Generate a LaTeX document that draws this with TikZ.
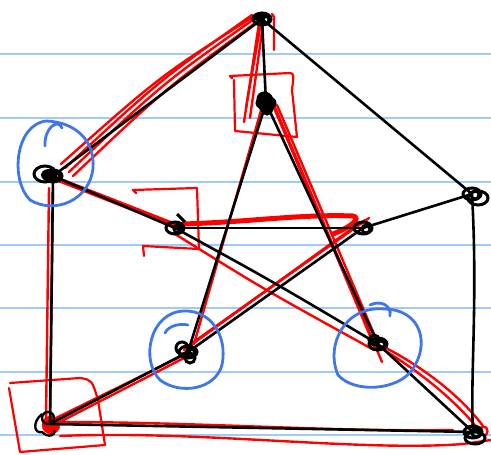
\documentclass[tikz,border=0pt]{standalone}
\usetikzlibrary{calc}
\definecolor{ruled}{RGB}{160,202,250}
\definecolor{penblue}{RGB}{64,118,232}
\definecolor{penred}{RGB}{255,0,0}
\begin{document}
\begin{tikzpicture}[x=1pt,y=-1pt,
  ruleline/.style={ruled,line width=1.6pt},
  edge/.style={black,line width=2.6pt,line cap=round},
  hl/.style={penred,line width=2.4pt,line cap=round,line join=round},
  hlthick/.style={penred,line width=5pt,line cap=round},
  ring/.style={penblue,line width=2.8pt,line cap=round},
  vmark/.style={black,line width=3pt},
  boxmark/.style={penred,line width=2.2pt,line join=round,line cap=round}]
\useasboundingbox (0,0) rectangle (491,455);
% ruled paper lines
\foreach \yy in {54,118,182,245,308,372,435}
  \draw[ruleline] (0,\yy) -- (491,\yy);
% vertices
\coordinate (T) at (262,19);
\coordinate (L) at (53,176);
\coordinate (R) at (472,194);
\coordinate (BL) at (50,424);
\coordinate (BR) at (473,432);
\coordinate (iT) at (266,103);
\coordinate (iL) at (175,228);
\coordinate (iR) at (363,228);
\coordinate (iBL) at (188,352);
\coordinate (iBR) at (378,344);
% red highlighted edges
\draw[hl] ([shift={(-6,-4)}]T) .. controls (160,76) .. ([shift={(8,-12)}]L);
\draw[hl] ([shift={(-10,-4)}]T) .. controls (160,80) .. ([shift={(12,-8)}]L);
\draw[hl] ([shift={(-8,0)}]T) .. controls (162,84) .. ([shift={(16,-4)}]L);
\draw[hl] ([shift={(-4,2)}]T) .. controls (166,88) .. ([shift={(20,0)}]L);
\draw[hl] ([shift={(-2,-2)}]T) -- (244,122);
\draw[hl] ([shift={(2,-2)}]T) -- (250,118);
\draw[hl] ([shift={(-1,3)}]T) -- (246,108);
\draw[hl] ([shift={(10,-5)}]T) -- ([shift={(12,-2)}]T) -- (274,50);
\draw[hlthick] ([shift={(4,3)}]L) -- ([shift={(2,-2)}]iL);
\draw[hl] ([shift={(-4,12)}]L) -- ([shift={(-4,-4)}]BL);
\draw[hl] ([shift={(0,12)}]L) -- ([shift={(0,-4)}]BL);
\draw[hlthick] ([shift={(8,-4)}]iL) .. controls (250,222) and (300,214) .. ([shift={(-10,-12)}]iR) .. controls ([shift={(-2,-10)}]iR) and ([shift={(-10,-2)}]iR) .. ([shift={(-30,6)}]iR);
\draw[hl] ([shift={(6,-10)}]iR) -- ([shift={(0,-6)}]iBL);
\draw[hl] ([shift={(2,-8)}]iR) -- ([shift={(-2,-4)}]iBL);
\draw[hl] ([shift={(-2,-6)}]iR) -- ([shift={(-4,-2)}]iBL);
\draw[hl] ([shift={(-4,4)}]iT) -- ([shift={(6,-8)}]iBL);
\draw[hl] ([shift={(6,0)}]iT) -- ([shift={(-2,6)}]iBR);
\draw[hl] ([shift={(8,2)}]iT) -- ([shift={(4,18)}]iBR);
\draw[hl] ([shift={(11,2)}]iT) -- ([shift={(-4,-10)}]iBR);
\draw[hl] ([shift={(0,6)}]iL) .. controls (265,290) .. ([shift={(-4,6)}]iBR);
\draw[hl] ([shift={(-2,2)}]iBL) -- ([shift={(-2,-2)}]BL);
\draw[hl] ([shift={(0,4)}]iBL) -- ([shift={(2,2)}]BL);
\draw[hl] ([shift={(4,2)}]iBR) .. controls (420,365) and (460,395) .. ([shift={(10,-6)}]BR);
\draw[hl] ([shift={(6,6)}]iBR) .. controls (420,372) and (455,400) .. ([shift={(6,-2)}]BR) .. controls ([shift={(12,-10)}]BR) and ([shift={(18,-2)}]BR) .. ([shift={(12,4)}]BR);
\draw[hl] ([shift={(10,-2)}]BL) .. controls (200,422) and (330,432) .. ([shift={(-20,-2)}]BR);
\draw[hl] ([shift={(10,12)}]BL) .. controls (200,430) and (360,452) .. ([shift={(-10,12)}]BR) -- ([shift={(18,8)}]BR);
% red boxes
\draw[boxmark] (232,78) -- (230,76) -- (290,73) .. controls (294,74) .. (292,90) -- (297,137) -- (235,131) -- (234,80);
\draw[boxmark] (136,193) -- (133,190) -- (197,188) -- (199,249) -- (143,246) -- (144,256);
\draw[boxmark] (10,383) -- (80,378) .. controls (92,380) .. (98,400) -- (105,445) -- (20,452) -- (9,388);
\draw[penred,fill=penred] (BL) ++(1,1) circle (9);
% black edges
\draw[edge] (T) -- (L);
\draw[edge] (T) -- (R);
\draw[edge] (L) -- (BL);
\draw[edge] (R) .. controls (478,300) and (470,380) .. (BR);
\draw[edge] (BL) -- (BR);
\draw[edge] (T) -- (iT);
\draw[edge] (L) -- (iL);
\draw[edge] (R) -- (iR);
\draw[edge] (BL) -- (iBL);
\draw[edge] (BR) -- (iBR);
\draw[edge] (iT) -- (iBL);
\draw[edge] (iT) -- (iBR);
\draw[edge] (iL) -- (iR);
\draw[edge] (iL) .. controls (270,280) .. (iBR);
\draw[edge] (iR) -- (iBL);
% vertex scribbles
\foreach \v in {T,L,R,BR,iT,iL,iR,iBL,iBR}{
  \draw[vmark] (\v) ellipse (9 and 6);
  \draw[vmark] ([shift={(3,1)}]\v) circle (4);
}
\fill[black] (iT) ellipse (8 and 11);
\draw[vmark] ([shift={(-2,-4)}]iT) circle (6);
\draw[vmark] ([shift={(1,6)}]iT) circle (5);
\fill[black] ([shift={(-4,-1)}]L) ellipse (8 and 6);
\fill[black] ([shift={(-3,-2)}]T) ellipse (7 and 4);
\draw[vmark] ([shift={(-6,-4)}]iBL) circle (6);
\draw[vmark] ([shift={(2,6)}]iBL) circle (5);
\draw[vmark] ([shift={(-4,-4)}]iBR) circle (5);
\draw[vmark] ([shift={(6,4)}]R) ellipse (10 and 7);
\draw[vmark] ([shift={(-8,-2)}]L) ellipse (11 and 8);
\draw[vmark] ([shift={(2,6)}]BR) ellipse (10 and 6);
\draw[vmark] ([shift={(2,-14)}]iL) -- ([shift={(10,-6)}]iL);
\draw[black,line width=2.4pt] ([shift={(-8,-10)}]BL) .. controls ([shift={(-18,-2)}]BL) and ([shift={(-16,10)}]BL) .. ([shift={(-8,8)}]BL) .. controls ([shift={(-2,14)}]BL) and ([shift={(6,12)}]BL) .. ([shift={(4,6)}]BL);
\draw[black,line width=2.4pt] ([shift={(-2,-6)}]BL) circle (6);
% blue circles
\draw[ring] (45,146) .. controls (44,128) and (58,118) .. (62,128) (46,121) .. controls (15,125) and (10,180) .. (30,200) .. controls (55,215) and (90,200) .. (93,168) .. controls (95,140) and (75,122) .. (46,121);
\draw[ring] (165,333) .. controls (168,326) and (180,323) .. (188,325) (184,311) .. controls (150,312) and (140,360) .. (160,380) .. controls (180,395) and (215,390) .. (222,365) .. controls (228,335) and (210,310) .. (184,311);
\draw[ring] (390,316) .. controls (392,305) and (380,300) .. (370,305) (385,309) .. controls (345,305) and (325,345) .. (338,375) .. controls (355,394) and (398,390) .. (412,370) .. controls (430,345) and (422,310) .. (385,309);
\end{tikzpicture}
\end{document}
